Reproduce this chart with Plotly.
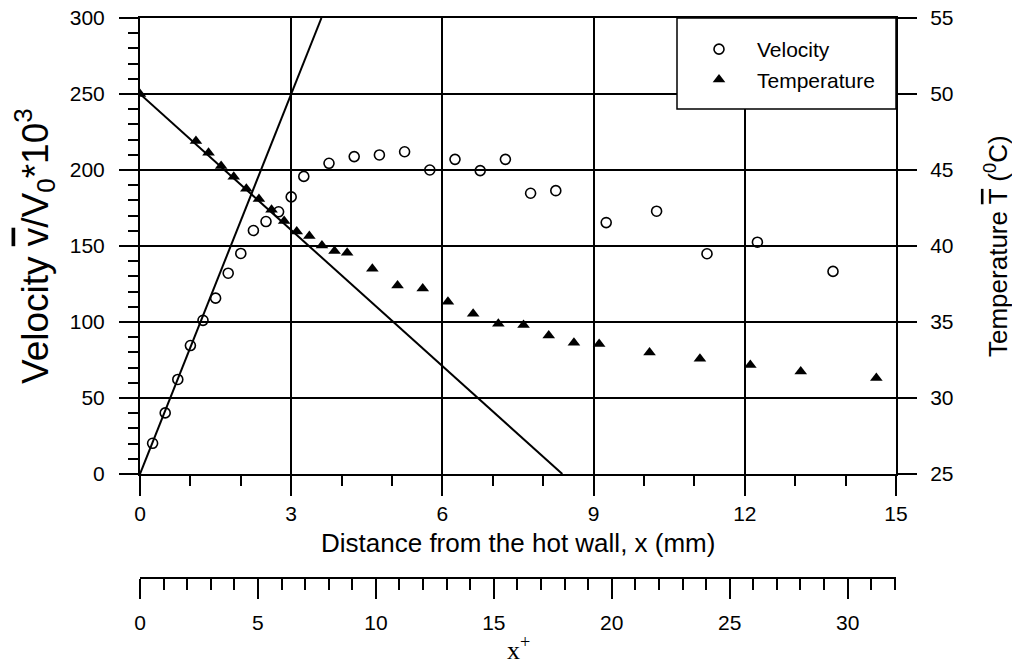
import plotly.graph_objects as go

# ---- data -------------------------------------------------------------
# velocity profile v/V0*10^3 vs distance from the hot wall (mm)
vel_x = [0.25, 0.50, 0.75, 1.00, 1.25, 1.50, 1.75, 2.00, 2.25, 2.50, 2.75,
         3.00, 3.25, 3.75, 4.25, 4.75, 5.25, 5.75, 6.25, 6.75, 7.25, 7.75,
         8.25, 9.25, 10.25, 11.25, 12.25, 13.75]
vel_v = [20.2, 40.2, 62.2, 84.5, 101.1, 115.7, 132.1, 145.1, 160.2, 166.1, 172.5,
         182.3, 195.8, 204.4, 208.8, 209.9, 212.0, 200.0, 207.0, 199.6, 207.0, 184.7,
         186.4, 165.4, 172.9, 144.9, 152.5, 133.3]

# mean temperature profile (deg C)
tmp_x = [0.00, 1.11, 1.36, 1.61, 1.86, 2.11, 2.36, 2.61, 2.86, 3.11, 3.36,
         3.61, 3.86, 4.11, 4.61, 5.11, 5.61, 6.11, 6.61, 7.11, 7.61, 8.11,
         8.61, 9.11, 10.11, 11.11, 12.11, 13.11, 14.61]
tmp_t = [50.0, 46.90, 46.13, 45.27, 44.55, 43.77, 43.09, 42.39, 41.64, 40.95, 40.65,
         40.04, 39.67, 39.56, 38.51, 37.40, 37.20, 36.33, 35.54, 34.88, 34.80, 34.11,
         33.64, 33.55, 33.00, 32.59, 32.17, 31.75, 31.32]

# near-wall linear fits
vel_fit_x = [0.0, 3.6]
vel_fit_v = [0.0, 300.0]
tmp_fit_x = [0.0, 8.38]
tmp_fit_t = [50.0, 25.0]

# axis settings
x_range = [0, 15]
xplus_range = [0, 32.05]
v_range = [0, 300]
t_range = [25, 55]

# ---- layout geometry ----------------------------------------------------
W, H = 1012, 664
ML, MR, MT, MB = 140, 116, 18, 87
plot_w = W - ML - MR
plot_h = H - MT - MB
main_bottom = (577 - 474) / plot_h

FONT = "Liberation Sans, Arial, Helvetica, sans-serif"
SERIF = "Liberation Serif, Times New Roman, serif"
BLACK = "#000000"

fig = go.Figure()

fig.add_trace(go.Scatter(
    x=vel_fit_x, y=vel_fit_v, mode="lines", xaxis="x", yaxis="y",
    line=dict(color=BLACK, width=2), showlegend=False, hoverinfo="skip"))
fig.add_trace(go.Scatter(
    x=tmp_fit_x, y=tmp_fit_t, mode="lines", xaxis="x", yaxis="y2",
    line=dict(color=BLACK, width=2), showlegend=False, hoverinfo="skip"))

fig.add_trace(go.Scatter(
    x=vel_x, y=vel_v, mode="markers", name="Velocity", xaxis="x", yaxis="y",
    marker=dict(symbol="circle-open", size=10, color=BLACK, line=dict(width=1.6))))
fig.add_trace(go.Scatter(
    x=tmp_x, y=tmp_t, mode="markers", name="Temperature", xaxis="x", yaxis="y2",
    marker=dict(symbol="triangle-up", size=11, color=BLACK)))

# empty helper trace so the secondary x+ scale gets its own subplot
fig.add_trace(go.Scatter(
    x=xplus_range, y=[0, 0], mode="lines", xaxis="x2", yaxis="y3",
    line=dict(width=0), opacity=0, showlegend=False, hoverinfo="skip"))

tick_font = dict(family=FONT, size=21, color=BLACK)

fig.update_layout(
    width=W, height=H,
    margin=dict(l=ML, r=MR, t=MT, b=MB, pad=0, autoexpand=False),
    paper_bgcolor="white", plot_bgcolor="white",
    font=dict(family=FONT, color=BLACK),
    xaxis=dict(
        domain=[0, 1], anchor="y", range=x_range, tick0=0, dtick=3,
        ticks="outside", ticklen=20, tickwidth=1.8, tickcolor=BLACK,
        minor=dict(dtick=1, ticks="outside", ticklen=10, tickwidth=1.5,
                   tickcolor=BLACK, showgrid=False),
        showline=True, linewidth=2, linecolor=BLACK, mirror=True,
        showgrid=True, gridcolor=BLACK, gridwidth=1.5, zeroline=False,
        tickfont=tick_font, ticklabelstandoff=0),
    yaxis=dict(
        domain=[main_bottom, 1], anchor="x", range=v_range, tick0=0, dtick=50,
        ticks="outside", ticklen=19, tickwidth=1.8, tickcolor=BLACK,
        minor=dict(dtick=10, ticks="outside", ticklen=10, tickwidth=1.5,
                   tickcolor=BLACK, showgrid=False),
        showline=True, linewidth=2, linecolor=BLACK, mirror=True,
        showgrid=True, gridcolor=BLACK, gridwidth=1.5, zeroline=False,
        tickfont=tick_font, ticklabelstandoff=10),
    yaxis2=dict(
        overlaying="y", side="right", anchor="x", range=t_range, tick0=25,
        dtick=5, ticks="outside", ticklen=20, tickwidth=1.8, tickcolor=BLACK,
        showline=False, showgrid=False, zeroline=False,
        tickfont=tick_font, ticklabelstandoff=9),
    xaxis2=dict(
        domain=[0, 1], anchor="y3", range=xplus_range, tick0=0, dtick=5,
        ticks="outside", ticklen=20, tickwidth=1.8, tickcolor=BLACK,
        minor=dict(dtick=1, ticks="outside", ticklen=11, tickwidth=1.5,
                   tickcolor=BLACK, showgrid=False),
        showline=True, linewidth=2, linecolor=BLACK,
        showgrid=False, zeroline=False,
        tickfont=tick_font, ticklabelstandoff=6),
    yaxis3=dict(domain=[0, 0.002], anchor="x2", visible=False, range=[0, 1]),
    showlegend=True,
    legend=dict(
        x=(681 - ML) / plot_w, xanchor="left",
        y=(577 - 29) / plot_h, yanchor="top",
        bgcolor="rgba(0,0,0,0)", borderwidth=0,
        font=dict(family=FONT, size=21, color=BLACK),
        itemwidth=66),
    shapes=[dict(
        type="rect", xref="paper", yref="paper",
        x0=(677 - ML) / plot_w, x1=1.0,
        y0=(577 - 109) / plot_h, y1=1.0,
        fillcolor="white", line=dict(color=BLACK, width=1.5), layer="above")],
    annotations=[
        dict(text='Velocity <span style="text-decoration:overline">v</span>/V<sub>0</sub>*10<sup>3</sup>',
             xref="paper", yref="paper", x=0, y=(main_bottom + 1) / 2,
             xanchor="center", yanchor="middle", xshift=34 - ML,
             textangle=-90, showarrow=False,
             font=dict(family=FONT, size=37, color=BLACK)),
        dict(text='Temperature <span style="text-decoration:overline">T</span> (<sup>0</sup>C)',
             xref="paper", yref="paper", x=1, y=(main_bottom + 1) / 2,
             xanchor="center", yanchor="middle", xshift=996 - (W - MR),
             textangle=-90, showarrow=False,
             font=dict(family=FONT, size=26, color=BLACK)),
        dict(text="Distance from the hot wall, x (mm)",
             xref="paper", yref="paper", x=0.5, y=(577 - 543) / plot_h,
             xanchor="center", yanchor="middle", showarrow=False,
             font=dict(family=FONT, size=26, color=BLACK)),
        dict(text="x<sup>+</sup>",
             xref="paper", yref="paper", x=0.5, y=(577 - 648) / plot_h,
             xanchor="center", yanchor="middle", showarrow=False,
             font=dict(family=SERIF, size=26, color=BLACK)),
    ],
)

fig.write_html("out.html")
